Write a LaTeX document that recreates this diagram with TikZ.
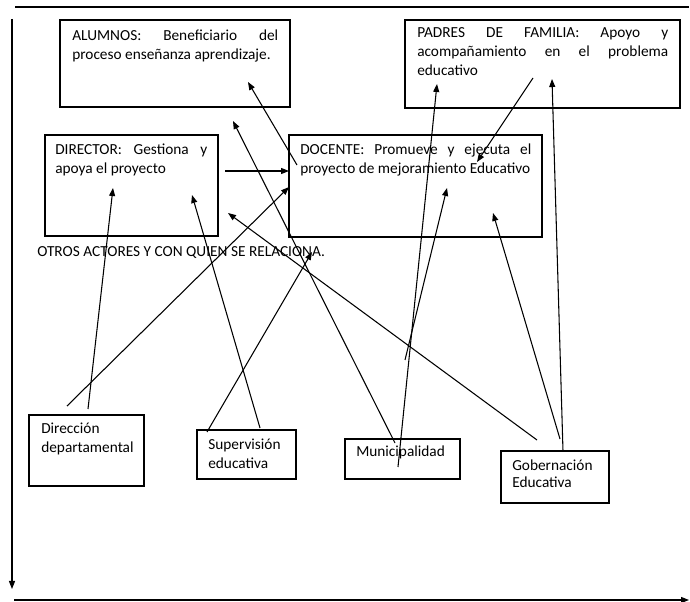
\documentclass[tikz,border=0pt]{standalone}
\usepackage{fontspec}
\setmainfont{Carlito}
\usetikzlibrary{arrows.meta}
\tikzset{
  caja/.style={draw,line width=0.8pt,inner sep=0pt,outer sep=0pt,anchor=north west},
  texto/.style={inner sep=0pt,anchor=base west,align=justify,font=\fontsize{11.5}{13.9}\selectfont},
  flecha/.style={line width=0.8pt,-{Triangle[length=6pt,width=4.5pt]}},
}

\begin{document}
\begin{tikzpicture}[x=0.75pt,y=-0.75pt]
\useasboundingbox (0,0) rectangle (690,602);

% marco
\draw[line width=0.8pt] (15,7) -- (689,7);
\draw[flecha] (12,19) -- (12,589);
\draw[flecha] (14,600) -- (689,600);

% cajas
\node[caja,minimum width=172.5pt,minimum height=65.25pt] (alumnos) at (60,20) {};
\node[caja,minimum width=206.25pt,minimum height=66pt] (padres) at (405,20) {};
\node[caja,minimum width=129.75pt,minimum height=75.75pt] (director) at (45,135) {};
\node[caja,minimum width=189.75pt,minimum height=76.5pt] (docente) at (289,135) {};
\node[caja,minimum width=86.25pt,minimum height=53.25pt] (direccion) at (29,415) {};
\node[caja,minimum width=74.25pt,minimum height=36.75pt] (supervision) at (197,430) {};
\node[caja,minimum width=86.25pt,minimum height=30pt] (municipalidad) at (345,439) {};
\node[caja,minimum width=81pt,minimum height=39pt] (gobernacion) at (501,451) {};

% textos
\node[texto,text width=154.5pt] (alumnos-t) at ([shift={(12,20.5)}]alumnos.north west)
  {ALUMNOS: Beneficiario del\linebreak proceso enseñanza aprendizaje.};
\node[texto,text width=188.25pt] (padres-t) at ([shift={(12,18)}]padres.north west)
  {PADRES DE FAMILIA: Apoyo y\linebreak acompañamiento en el problema\linebreak educativo};
\node[texto,text width=114pt] (director-t) at ([shift={(10,20)}]director.north west)
  {DIRECTOR: Gestiona y\linebreak apoya el proyecto};
\node[texto,text width=173.25pt] (docente-t) at ([shift={(11,20)}]docente.north west)
  {DOCENTE: Promueve y ejecuta el\linebreak proyecto de mejoramiento Educativo};
\node[texto,text width=80pt,align=left] (direccion-t) at ([shift={(12,19)}]direccion.north west) {Dirección\\departamental};
\node[texto,text width=70pt,align=left] (supervision-t) at ([shift={(11,20)}]supervision.north west) {Supervisión\\educativa};
\node[texto,text width=80pt,align=left] (municipalidad-t) at ([shift={(11,18)}]municipalidad.north west) {Municipalidad};
\node[texto,text width=75pt,align=left,font=\fontsize{11.5}{12.4}\selectfont] (gobernacion-t) at ([shift={(11,20)}]gobernacion.north west) {Gobernación\\Educativa};
\node[texto,align=left] (otros) at (37,257) {OTROS ACTORES Y CON QUIEN SE RELACIONA.};

% extremos sueltos
\coordinate (relacion) at ([shift={(275,-5)}]otros.base west);
\coordinate (libre) at ([shift={(60,-79)}]municipalidad.north west);

% flechas
\draw[flecha] ([shift={(180,36)}]director.north west) -- ([shift={(0,36)}]docente.north west);
\draw[flecha] ([shift={(59,-6)}]direccion.north west) -- ([shift={(68,53)}]director.north west);
\draw[flecha] ([shift={(38,-9)}]direccion.north west) -- ([shift={(0,52)}]docente.north west);
\draw[flecha] ([shift={(63,-2)}]supervision.north west) -- ([shift={(147,60)}]director.north west);
\draw[flecha] ([shift={(10,2)}]supervision.north west) -- (relacion);
\draw[flecha] ([shift={(50,4)}]municipalidad.north west) -- ([shift={(173,101)}]alumnos.north west);
\draw[flecha] ([shift={(53,28)}]municipalidad.north west) -- ([shift={(32,64)}]padres.north west);
\draw[flecha] (libre) -- ([shift={(158,53)}]docente.north west);
\draw[flecha] ([shift={(128,58)}]padres.north west) -- ([shift={(188,27)}]docente.north west);
\draw[flecha] ([shift={(62,0)}]gobernacion.north west) -- ([shift={(147,59)}]padres.north west);
\draw[flecha] ([shift={(59,-12)}]gobernacion.north west) -- ([shift={(204,78)}]docente.north west);
\draw[flecha] ([shift={(36,-11)}]gobernacion.north west) -- ([shift={(183,78)}]director.north west);
\draw[flecha] ([shift={(8,30)}]docente.north west) -- ([shift={(188,62)}]alumnos.north west);
\end{tikzpicture}
\end{document}
